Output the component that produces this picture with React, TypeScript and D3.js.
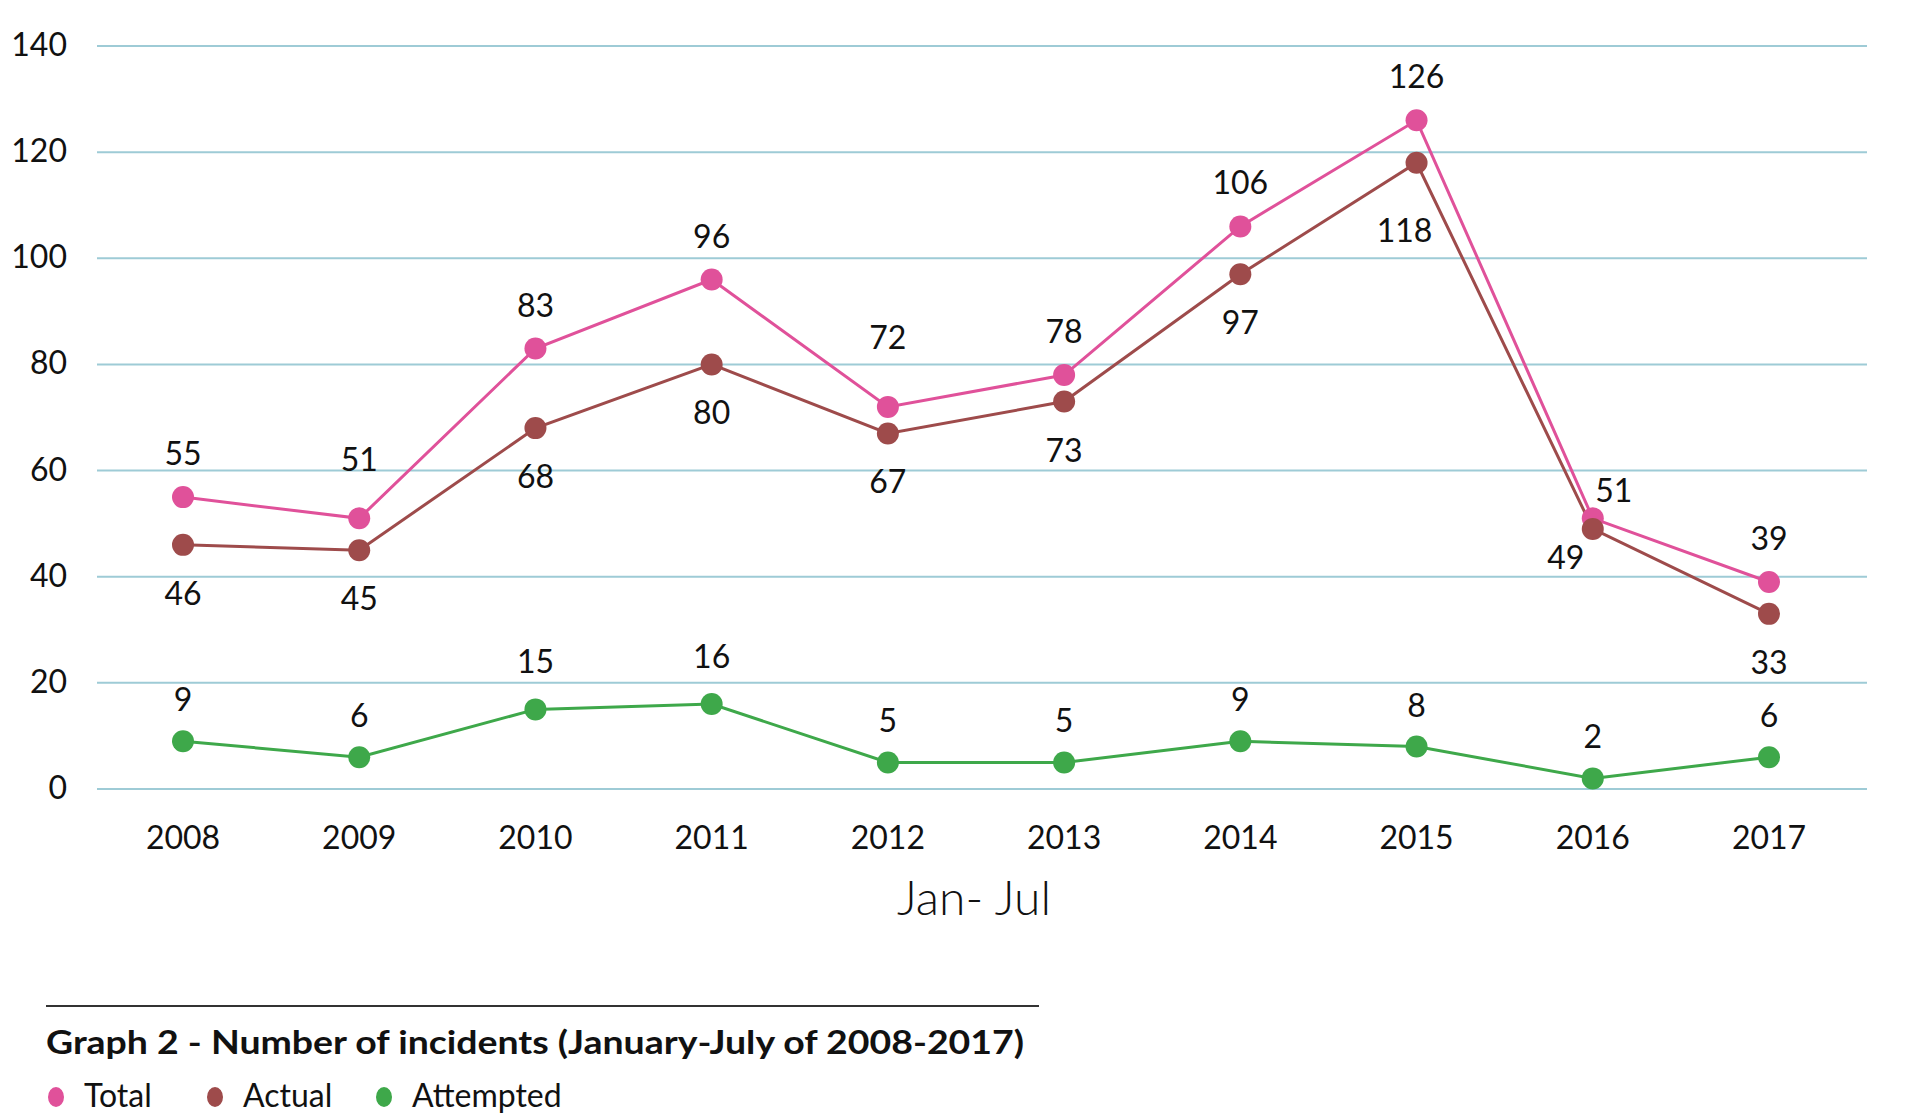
import React from 'react';
import * as d3 from 'd3';

const years = ['2008', '2009', '2010', '2011', '2012', '2013', '2014', '2015', '2016', '2017'];
const totalValues = [55, 51, 83, 96, 72, 78, 106, 126, 51, 39];
const actualValues = [46, 45, 68, 80, 67, 73, 97, 118, 49, 33];
const attemptedValues = [9, 6, 15, 16, 5, 5, 9, 8, 2, 6];
const yTicks = [0, 20, 40, 60, 80, 100, 120, 140];
const seriesNames = ['Total', 'Actual', 'Attempted'];

const colors: Record<string, string> = {
  Total: '#e0519a',
  Actual: '#9e4b4b',
  Attempted: '#3ea84a',
};

const FONT = 'Lato, "Open Sans", sans-serif';

// default label offset per series (baseline relative to the dot)
const labelDy: Record<string, number> = { Total: -32, Actual: 60, Attempted: -30 };

// a few labels sit elsewhere in the original
const labelNudge: Record<string, { dx: number; dy: number }> = {
  'Total-2009': { dx: 0, dy: -47 },
  'Total-2012': { dx: 0, dy: -58 },
  'Actual-2015': { dx: -12, dy: 79 },
  'Total-2016': { dx: 21, dy: -16 },
  'Actual-2016': { dx: -27, dy: 40 },
  'Attempted-2010': { dx: 0, dy: -36 },
  'Attempted-2011': { dx: 0, dy: -36 },
};

const App: React.FC = () => {
  const width = 1916;
  const height = 1114;

  const x = d3.scalePoint<string>().domain(years).range([183, 1769]);
  const y = d3.scaleLinear().domain([0, 140]).range([789, 46]);

  const series = [
    { name: 'Total', values: totalValues },
    { name: 'Actual', values: actualValues },
    { name: 'Attempted', values: attemptedValues },
  ];

  const line = d3.line<number>()
    .x((_, i) => x(years[i]) as number)
    .y(d => y(d));

  const legendX = [56, 215, 384];

  return (
    <svg
      width={width}
      height={height}
      style={{ position: 'absolute', left: 0, top: 0, display: 'block', background: '#fff' }}
      fontFamily={FONT}
    >
      {/* gridlines + y labels */}
      {yTicks.map(t => (
        <g key={t}>
          <line x1={97} x2={1867} y1={y(t)} y2={y(t)} stroke="#9ecbd6" strokeWidth={2} />
          <text x={67} y={y(t) + 10} textAnchor="end" fontSize={32} fill="#111">{t}</text>
        </g>
      ))}

      {/* x labels */}
      {years.map(yr => (
        <text key={yr} x={x(yr)} y={849} textAnchor="middle" fontSize={32} fill="#111">{yr}</text>
      ))}

      <text x={974} y={915} textAnchor="middle" fontSize={48} fontWeight={300} fill="#111">Jan- Jul</text>

      {/* lines */}
      {series.map(s => (
        <path key={s.name} d={line(s.values) || ''} fill="none" stroke={colors[s.name]} strokeWidth={3} />
      ))}

      {/* dots */}
      {series.map(s => (
        <g key={s.name + '-dots'}>
          {s.values.map((v, i) => (
            <circle key={i} cx={x(years[i])} cy={y(v)} r={11} fill={colors[s.name]} />
          ))}
        </g>
      ))}

      {/* value labels */}
      {series.map(s => (
        <g key={s.name + '-labels'}>
          {s.values.map((v, i) => {
            const nudge = labelNudge[`${s.name}-${years[i]}`] || { dx: 0, dy: labelDy[s.name] };
            return (
              <text
                key={i}
                x={(x(years[i]) as number) + nudge.dx}
                y={y(v) + nudge.dy}
                textAnchor="middle"
                fontSize={32}
                fill="#111"
              >
                {v}
              </text>
            );
          })}
        </g>
      ))}

      {/* caption */}
      <line x1={46} x2={1039} y1={1006} y2={1006} stroke="#333" strokeWidth={2} />
      <text x={46} y={1054} fontSize={32} fontWeight={700} fill="#111" textLength={978} lengthAdjust="spacingAndGlyphs">
        Graph 2 - Number of incidents (January-July of 2008-2017)
      </text>

      {seriesNames.map((name, i) => (
        <g key={name}>
          <ellipse cx={legendX[i]} cy={1097} rx={8} ry={10} fill={colors[name]} />
          <text x={legendX[i] + 28} y={1107} fontSize={32} fill="#111">{name}</text>
        </g>
      ))}
    </svg>
  );
};

export default App;
